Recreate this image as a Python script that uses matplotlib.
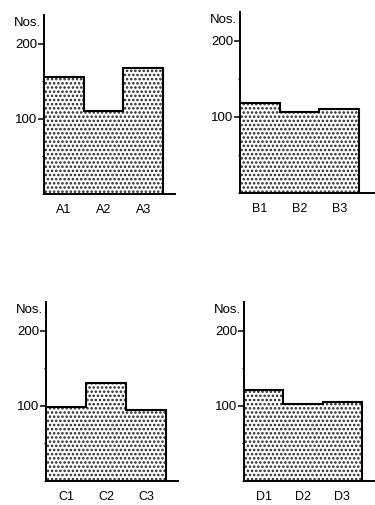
import matplotlib
matplotlib.use("Agg")
import matplotlib.pyplot as plt
from matplotlib.ticker import MultipleLocator

plt.rcParams['font.family'] = ['Liberation Sans', 'DejaVu Sans']
plt.rcParams['hatch.linewidth'] = 1.2

# --- Data ---
labels_a = ["A1", "A2", "A3"]
values_a = [156, 110, 167]
labels_b = ["B1", "B2", "B3"]
values_b = [118, 106, 110]
labels_c = ["C1", "C2", "C3"]
values_c = [98, 130, 95]
labels_d = ["D1", "D2", "D3"]
values_d = [121, 103, 105]

edges = [0, 1, 2, 3]
Y_TOP = 238

# --- Layout (pixel boxes: left, right, baseline, top) ---
W, H = 375, 505
panels = [
    (labels_a, values_a, (44, 175, 194, 15), 163),
    (labels_b, values_b, (240, 374, 193, 12), 359),
    (labels_c, values_c, (46, 178, 481, 302), 166),
    (labels_d, values_d, (244, 374, 481, 302), 362),
]

fig = plt.figure(figsize=(W / 100, H / 100), dpi=100)

for labels, values, (x0, x1, yb, yt), xbar in panels:
    ax = fig.add_axes([x0 / W, (H - yb) / H, (x1 - x0) / W, (yb - yt) / H])
    ax.stairs(values, edges, fill=True, facecolor='white', edgecolor='#222222',
              hatch='....', linewidth=0)
    ax.stairs(values, edges, fill=False, color='black', linewidth=1.5,
              baseline=None)
    # right edge of last bar
    ax.plot([3, 3], [0, values[-1]], color='black', lw=1.5)

    ax.set_xlim(0, 3 * (x1 - x0) / (xbar - x0))
    ax.set_ylim(0, Y_TOP)
    for s in ['top', 'right']:
        ax.spines[s].set_visible(False)
    ax.spines['left'].set_linewidth(1.4)
    ax.spines['bottom'].set_linewidth(1.4)

    ax.set_xticks([0.5, 1.5, 2.5])
    ax.set_xticklabels(labels, fontsize=9)
    ax.tick_params(axis='x', length=0, pad=7.5)

    ax.yaxis.set_major_locator(MultipleLocator(100))
    ax.yaxis.set_minor_locator(MultipleLocator(50))
    ax.set_yticks([100, 200])
    ax.tick_params(axis='y', which='major', length=4, width=1.1, labelsize=9.5, pad=1)
    ax.tick_params(axis='y', which='minor', length=1.5, width=0.8)

    ax.text(-0.02, 228, "Nos.", transform=ax.get_yaxis_transform(),
            ha='right', va='center', fontsize=9.5)

fig.savefig("out.png", dpi=100)
